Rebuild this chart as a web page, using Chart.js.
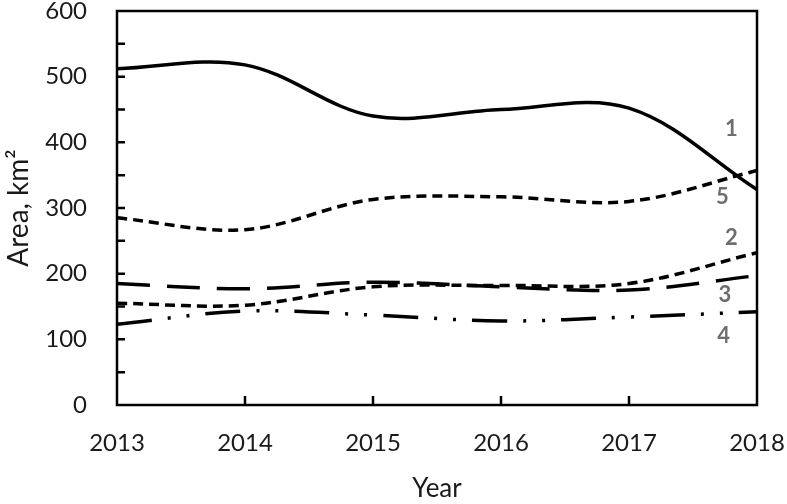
<!DOCTYPE html>
<html lang="en">
<head>
    <meta charset="UTF-8">
    <title>Area by Year</title>
    <script src="https://cdn.jsdelivr.net/npm/chart.js"></script>
    <style>
        html, body {
            margin: 0;
            padding: 0;
            background-color: #fff;
        }
        .chart-container {
            width: 787px;
            height: 504px;
        }
    </style>
</head>
<body>
    <div class="chart-container">
        <canvas id="areaChart"></canvas>
    </div>

    <script>
        // data
        const years = [2013, 2014, 2015, 2016, 2017, 2018];
        const area1 = [512, 518, 440, 450, 452, 328];
        const area2 = [155, 152, 180, 182, 185, 232];
        const area3 = [185, 177, 187, 180, 175, 197];
        const area4 = [123, 143, 137, 128, 134, 142];
        const area5 = [285, 267, 313, 317, 310, 357];
        const yTicks = [0, 100, 200, 300, 400, 500, 600];

        // curve numbers placed next to the lines (year, area)
        const curveLabels = ['1', '5', '2', '3', '4'];
        const curveLabelX = [2017.8, 2017.73, 2017.8, 2017.75, 2017.74];
        const curveLabelY = [421, 317, 254, 167, 105];

        const fontFamily = 'Lato, "Open Sans", sans-serif';

        function toPoints(vals) {
            return years.map((yr, i) => ({ x: yr, y: vals[i] }));
        }

        function series(label, vals, dash) {
            return {
                label: label,
                data: toPoints(vals),
                borderColor: '#000',
                borderWidth: 3.5,
                borderDash: dash,
                borderCapStyle: 'butt',
                pointRadius: 0,
                tension: 0.35,
                fill: false
            };
        }

        // frame, inside ticks and curve numbers
        const framePlugin = {
            id: 'frame',
            afterDatasetsDraw(chart) {
                const c = chart.ctx;
                const a = chart.chartArea;
                const xs = chart.scales.x;
                const ys = chart.scales.y;
                c.save();
                c.strokeStyle = '#000';
                c.lineWidth = 2.5;
                c.strokeRect(a.left, a.top, a.right - a.left, a.bottom - a.top);
                c.beginPath();
                for (let v = 50; v < 600; v += 50) {
                    const py = ys.getPixelForValue(v);
                    c.moveTo(a.left, py);
                    c.lineTo(a.left + 8, py);
                }
                for (let i = 1; i < years.length - 1; i++) {
                    const px = xs.getPixelForValue(years[i]);
                    c.moveTo(px, a.bottom);
                    c.lineTo(px, a.bottom - 9);
                }
                c.stroke();

                c.fillStyle = '#6e6e6e';
                c.font = 'bold 22px ' + fontFamily;
                c.textAlign = 'center';
                c.textBaseline = 'middle';
                curveLabels.forEach((t, i) => {
                    c.fillText(t, xs.getPixelForValue(curveLabelX[i]), ys.getPixelForValue(curveLabelY[i]));
                });
                c.restore();
            }
        };

        const ctx = document.getElementById('areaChart').getContext('2d');
        const areaChart = new Chart(ctx, {
            type: 'line',
            data: {
                datasets: [
                    series('1', area1, []),
                    series('2', area2, [10, 6]),
                    series('3', area3, [33, 17]),
                    series('4', area4, [35, 16, 3, 16, 3, 16]),
                    series('5', area5, [10, 6])
                ]
            },
            options: {
                responsive: true,
                maintainAspectRatio: false,
                animation: false,
                layout: {
                    padding: { top: 11, right: 30, bottom: 0, left: 0 }
                },
                plugins: {
                    legend: { display: false },
                    tooltip: { enabled: false }
                },
                scales: {
                    x: {
                        type: 'linear',
                        min: 2013,
                        max: 2018,
                        grid: { display: false },
                        border: { display: false },
                        ticks: {
                            stepSize: 1,
                            padding: 16,
                            color: '#1a1a1a',
                            font: { family: fontFamily, size: 24 },
                            callback: v => String(v)
                        },
                        title: {
                            display: true,
                            text: 'Year',
                            color: '#1a1a1a',
                            font: { family: fontFamily, size: 26 },
                            padding: { top: 6, bottom: 0 }
                        },
                        afterFit(scale) {
                            scale.height = 99;
                            scale.paddingLeft = 0;
                            scale.paddingRight = 0;
                        }
                    },
                    y: {
                        min: 0,
                        max: 600,
                        grid: { display: false },
                        border: { display: false },
                        afterBuildTicks(scale) {
                            scale.ticks = yTicks.map(v => ({ value: v }));
                        },
                        ticks: {
                            padding: 22,
                            color: '#1a1a1a',
                            font: { family: fontFamily, size: 24 }
                        },
                        title: {
                            display: true,
                            text: 'Area, km²',
                            color: '#1a1a1a',
                            font: { family: fontFamily, size: 28 },
                            padding: { top: 2, bottom: 6 }
                        },
                        afterFit(scale) {
                            scale.width = 117;
                            scale.paddingTop = 0;
                            scale.paddingBottom = 0;
                        }
                    }
                }
            },
            plugins: [framePlugin]
        });
    </script>
</body>
</html>
